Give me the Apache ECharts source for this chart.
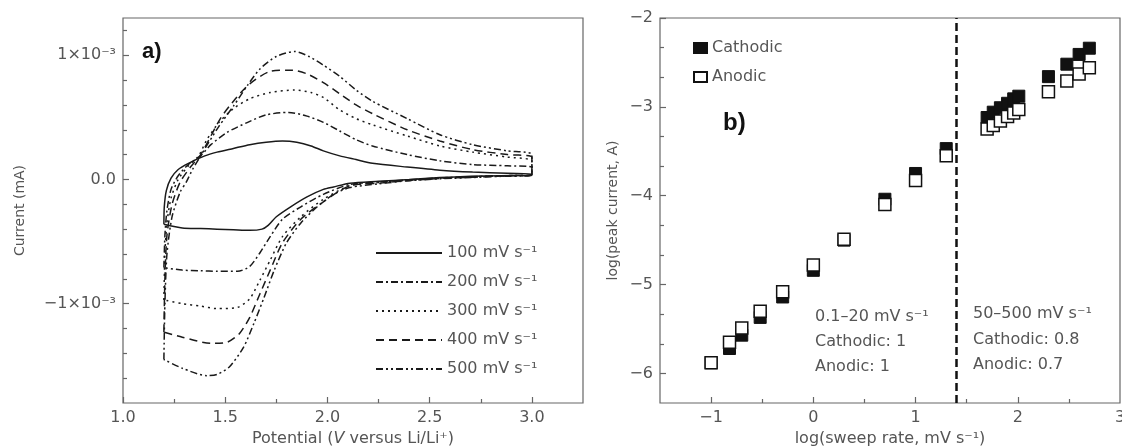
<!DOCTYPE html>
<html><head><meta charset="utf-8">
<script src="https://cdn.jsdelivr.net/npm/echarts@6/dist/echarts.min.js"></script>
<style>html,body{margin:0;padding:0;background:#fff}#c{width:1122px;height:446px}</style>
</head><body><div id="c"></div>
<script>
// ---------- Panel a) cyclic voltammograms (potential V, current in units of 1e-3 mA) ----------
const cvNames = ['100 mV s⁻¹', '200 mV s⁻¹', '300 mV s⁻¹', '400 mV s⁻¹', '500 mV s⁻¹'];
const cv100 = [[1.20,-0.36],[1.202,-0.22],[1.212,-0.09],[1.235,0.01],[1.27,0.08],[1.32,0.13],[1.40,0.19],[1.46,0.22],[1.54,0.25],[1.62,0.28],[1.70,0.30],[1.78,0.31],[1.85,0.30],[1.92,0.27],[1.98,0.23],[2.06,0.19],[2.14,0.16],[2.22,0.13],[2.39,0.10],[2.55,0.075],[2.71,0.06],[2.88,0.05],[3.0,0.045],
  [3.0,0.035],[2.85,0.03],[2.7,0.025],[2.55,0.015],[2.4,0.0],[2.25,-0.015],[2.11,-0.03],[2.03,-0.06],[1.98,-0.08],[1.90,-0.14],[1.82,-0.22],[1.75,-0.30],[1.71,-0.37],[1.68,-0.40],[1.62,-0.41],[1.54,-0.405],[1.46,-0.40],[1.38,-0.395],[1.29,-0.39],[1.20,-0.36]];
const cv200 = [[1.20,-0.71],[1.205,-0.45],[1.215,-0.25],[1.235,-0.08],[1.27,0.03],[1.32,0.12],[1.38,0.19],[1.43,0.28],[1.51,0.38],[1.61,0.46],[1.70,0.52],[1.81,0.54],[1.90,0.51],[1.98,0.46],[2.06,0.39],[2.14,0.32],[2.22,0.27],[2.39,0.20],[2.55,0.15],[2.71,0.12],[2.88,0.11],[3.0,0.10],
  [3.0,0.035],[2.85,0.03],[2.7,0.022],[2.55,0.012],[2.4,-0.003],[2.25,-0.02],[2.11,-0.04],[1.98,-0.12],[1.87,-0.22],[1.78,-0.32],[1.72,-0.46],[1.67,-0.59],[1.62,-0.70],[1.56,-0.74],[1.46,-0.74],[1.38,-0.735],[1.29,-0.73],[1.20,-0.71]];
const cv300 = [[1.20,-0.97],[1.205,-0.6],[1.215,-0.35],[1.235,-0.15],[1.27,0.0],[1.32,0.11],[1.37,0.19],[1.41,0.32],[1.47,0.46],[1.54,0.57],[1.62,0.65],[1.72,0.70],[1.84,0.72],[1.92,0.70],[1.98,0.66],[2.06,0.56],[2.14,0.49],[2.22,0.44],[2.39,0.35],[2.55,0.27],[2.71,0.22],[2.88,0.18],[3.0,0.15],
  [3.0,0.035],[2.85,0.03],[2.7,0.02],[2.55,0.01],[2.4,-0.005],[2.25,-0.025],[2.11,-0.05],[1.98,-0.16],[1.87,-0.30],[1.78,-0.46],[1.72,-0.65],[1.67,-0.81],[1.62,-0.96],[1.56,-1.03],[1.46,-1.04],[1.38,-1.02],[1.29,-1.0],[1.20,-0.97]];
const cv400 = [[1.20,-1.23],[1.205,-0.8],[1.215,-0.45],[1.24,-0.2],[1.28,-0.02],[1.33,0.10],[1.38,0.20],[1.43,0.35],[1.48,0.50],[1.55,0.65],[1.62,0.77],[1.72,0.87],[1.83,0.88],[1.90,0.85],[1.98,0.78],[2.06,0.69],[2.14,0.60],[2.22,0.53],[2.39,0.40],[2.55,0.31],[2.71,0.24],[2.88,0.20],[3.0,0.18],
  [3.0,0.035],[2.85,0.028],[2.7,0.018],[2.55,0.008],[2.4,-0.008],[2.25,-0.03],[2.11,-0.05],[1.98,-0.18],[1.87,-0.32],[1.78,-0.51],[1.72,-0.73],[1.67,-0.92],[1.62,-1.11],[1.57,-1.24],[1.51,-1.31],[1.43,-1.32],[1.29,-1.27],[1.20,-1.23]];
const cv500 = [[1.20,-1.45],[1.205,-1.0],[1.215,-0.6],[1.24,-0.3],[1.28,-0.1],[1.31,-0.02],[1.34,0.08],[1.38,0.19],[1.42,0.30],[1.47,0.43],[1.54,0.59],[1.61,0.76],[1.67,0.89],[1.75,0.99],[1.84,1.03],[1.91,0.99],[1.98,0.92],[2.06,0.83],[2.14,0.72],[2.22,0.63],[2.39,0.49],[2.55,0.36],[2.71,0.28],[2.88,0.23],[3.0,0.20],
  [3.0,0.035],[2.85,0.025],[2.7,0.015],[2.55,0.005],[2.4,-0.01],[2.25,-0.035],[2.11,-0.065],[2.03,-0.12],[1.95,-0.22],[1.87,-0.35],[1.80,-0.51],[1.74,-0.73],[1.69,-0.95],[1.64,-1.16],[1.59,-1.35],[1.52,-1.51],[1.46,-1.57],[1.41,-1.58],[1.29,-1.52],[1.20,-1.45]];

const aXMajor = [1.0, 1.5, 2.0, 2.5, 3.0];
const aXMinor = [1.25, 1.75, 2.25, 2.75];
const aYMajor = [-1, 0, 1];
const aYLabels = ['−1×10⁻³', '0.0', '1×10⁻³'];
const aYMinor = [-1.6, -1.4, -1.2, -0.8, -0.6, -0.4, -0.2, 0.2, 0.4, 0.6, 0.8, 1.2];

// ---------- Panel b) peak current vs sweep rate (log-log) ----------
const logRate  = [-1, -0.82, -0.7, -0.52, -0.3, 0, 0.3, 0.7, 1, 1.3, 1.7, 1.76, 1.83, 1.9, 1.96, 2.01, 2.3, 2.48, 2.6, 2.7];
const cathodic = [-5.88, -5.72, -5.57, -5.37, -5.14, -4.84, -4.50, -4.04, -3.75, -3.47, -3.12, -3.06, -3.01, -2.96, -2.91, -2.88, -2.66, -2.52, -2.41, -2.34];
const anodic   = [-5.88, -5.65, -5.49, -5.30, -5.08, -4.78, -4.49, -4.10, -3.83, -3.55, -3.25, -3.21, -3.16, -3.11, -3.07, -3.03, -2.83, -2.71, -2.63, -2.56];
const dividerX = 1.4;
const bXMajor = [-1, 0, 1, 2];
const bXLabels = [-1, 0, 1, 2, 3];
const bXMinor = [-0.5, 0.5, 1.5, 2.5];
const bYMajor = [-6, -5, -4, -3, -2];
const bYMinor = [-5.667, -5.333, -4.667, -4.333, -3.667, -3.333, -2.667, -2.333];
const noteLeft  = ['0.1–20 mV s⁻¹', 'Cathodic: 1', 'Anodic: 1'];
const noteRight = ['50–500 mV s⁻¹', 'Cathodic: 0.8', 'Anodic: 0.7'];

// ---------- styling ----------
const FONT = 'DejaVu Sans';
const TXT = '#555';
const AX = '#666';
const INK = '#1a1a1a';
const dashes = ['solid', [7,3,2,3], [2,4], [8,5], [7,3,2,3,2,3]];
const minus = v => (v < 0 ? '−' : '') + Math.abs(v);

const gridA = {left: 123, top: 18, width: 460, height: 385, outerBoundsMode: 'none', containLabel: false};
const gridB = {left: 660, top: 18, width: 460, height: 385, outerBoundsMode: 'none', containLabel: false};

function mainAxis(grid, min, max, majors, labelVals, fmt, extra) {
  return Object.assign({
    gridIndex: grid, type: 'value', min, max,
    axisLine: {show: false, onZero: false}, splitLine: {show: false},
    axisTick: {inside: true, length: 6, customValues: majors, lineStyle: {color: AX, width: 1.2}},
    axisLabel: {customValues: labelVals, formatter: fmt, color: TXT, fontFamily: FONT, fontSize: 16, margin: 7},
    nameLocation: 'middle',
    nameTextStyle: {color: TXT, fontFamily: FONT, fontSize: 14}
  }, extra);
}
function minorAxis(grid, min, max, minors) {
  return {
    gridIndex: grid, type: 'value', min, max,
    axisLine: {show: false, onZero: false}, splitLine: {show: false}, axisLabel: {show: false},
    axisTick: {inside: true, length: 4, customValues: minors, lineStyle: {color: AX, width: 1.2}}
  };
}

const cvData = [cv100, cv200, cv300, cv400, cv500];
const series = cvData.map((d, i) => ({
  name: cvNames[i], type: 'line', xAxisIndex: 0, yAxisIndex: 0,
  data: d, showSymbol: false, symbol: 'none', smooth: 0.25,
  lineStyle: {color: INK, width: 1.5, type: dashes[i]},
  itemStyle: {color: INK}
}));
series.push({
  name: 'Cathodic', type: 'scatter', xAxisIndex: 2, yAxisIndex: 2,
  symbol: 'rect', symbolSize: 12,
  data: logRate.map((x, i) => [x, cathodic[i]]),
  itemStyle: {color: '#111', borderColor: '#111', borderWidth: 1, opacity: 1},
  markLine: {
    silent: true, symbol: 'none', label: {show: false},
    lineStyle: {color: '#111', width: 2.5, type: [8, 4]},
    data: [{xAxis: dividerX}]
  }
});
series.push({
  name: 'Anodic', type: 'scatter', xAxisIndex: 2, yAxisIndex: 2,
  symbol: 'rect', symbolSize: 12,
  data: logRate.map((x, i) => [x, anodic[i]]),
  itemStyle: {color: '#fff', borderColor: '#111', borderWidth: 1.5, opacity: 1}
});

const textEl = (t, x, y, style) => ({type: 'text', left: x, top: y,
  style: Object.assign({text: t, fill: TXT, font: '16px "DejaVu Sans"', textVerticalAlign: 'middle'}, style)});

const xNameStyle = {color: TXT, fontFamily: FONT, fontSize: 16,
  rich: {i: {fontStyle: 'italic', color: TXT, fontFamily: FONT, fontSize: 16}}};

const chart = echarts.init(document.getElementById('c'), null, {renderer: 'canvas'});
chart.setOption({
  animation: false,
  backgroundColor: '#fff',
  grid: [
    Object.assign({show: true, borderColor: AX, borderWidth: 1.2, backgroundColor: 'transparent'}, gridA),
    Object.assign({show: false}, gridA),
    Object.assign({show: true, borderColor: AX, borderWidth: 1.2, backgroundColor: 'transparent'}, gridB),
    Object.assign({show: false}, gridB)
  ],
  xAxis: [
    mainAxis(0, 1.0, 3.25, aXMajor, aXMajor, v => v.toFixed(1), {
      name: 'Potential ({i|V} versus Li/Li⁺)', nameGap: 26, nameTextStyle: xNameStyle
    }),
    minorAxis(1, 1.0, 3.25, aXMinor),
    mainAxis(2, -1.5, 3, bXMajor, bXLabels, minus, {
      name: 'log(sweep rate, mV s⁻¹)', nameGap: 26, nameTextStyle: xNameStyle
    }),
    minorAxis(3, -1.5, 3, bXMinor)
  ],
  yAxis: [
    mainAxis(0, -1.8, 1.3, aYMajor, aYMajor, v => aYLabels[aYMajor.indexOf(Math.round(v))], {
      name: 'Current (mA)', nameGap: 96
    }),
    minorAxis(1, -1.8, 1.3, aYMinor),
    mainAxis(2, -6.3333, -2, bYMajor, bYMajor, minus, {name: 'log(peak current, A)', nameGap: 40}),
    minorAxis(3, -6.3333, -2, bYMinor)
  ],
  legend: [
    {
      data: cvNames, orient: 'vertical', left: 375, top: 244, padding: 0,
      itemWidth: 66, itemHeight: 14, itemGap: 11,
      itemStyle: {opacity: 0},
      textStyle: {color: TXT, fontFamily: FONT, fontSize: 16, lineHeight: 18},
      selectedMode: false
    },
    {
      data: [{name: 'Cathodic', icon: 'rect'}, {name: 'Anodic', icon: 'rect'}],
      orient: 'vertical', left: 693, top: 39, padding: 0,
      itemWidth: 13, itemHeight: 10, itemGap: 11,
      textStyle: {color: TXT, fontFamily: FONT, fontSize: 16, lineHeight: 18},
      selectedMode: false
    }
  ],
  graphic: [
    textEl('a)', 142, 41, {fill: '#111', font: 'bold 22px "Liberation Sans"'}),
    textEl('b)', 723, 111, {fill: '#111', font: 'bold 24px "Liberation Sans"'}),
    textEl(noteLeft[0], 815, 309), textEl(noteLeft[1], 815, 334), textEl(noteLeft[2], 815, 359),
    textEl(noteRight[0], 973, 306), textEl(noteRight[1], 973, 332), textEl(noteRight[2], 973, 357)
  ],
  series
});
</script>
</body></html>
